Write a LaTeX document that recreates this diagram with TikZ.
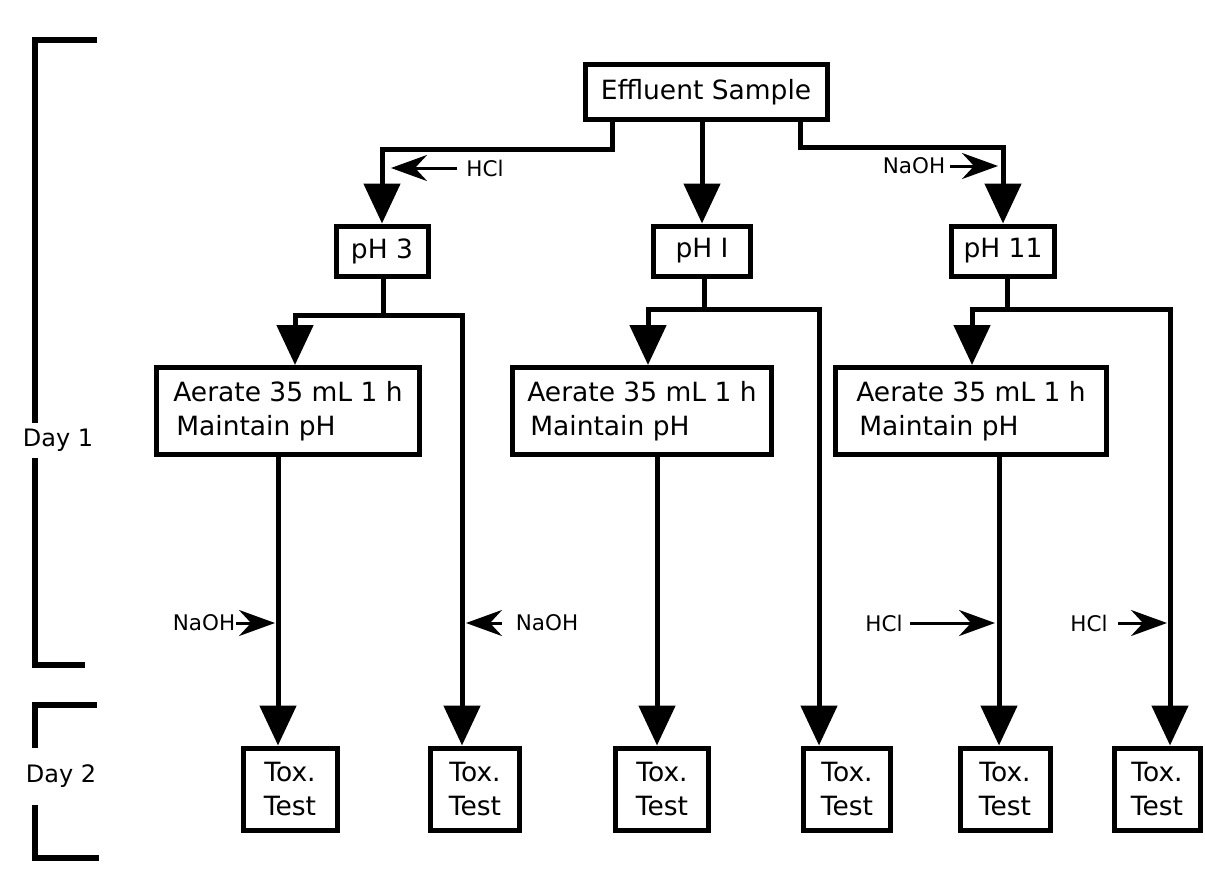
\documentclass[tikz,border=0pt]{standalone}
\usepackage{fontspec}
\setmainfont{DejaVu Sans}
\usetikzlibrary{arrows.meta}
\begin{document}
\begin{tikzpicture}[x=1pt,y=-1pt,
  box/.style={draw,line width=5pt,inner sep=0pt,align=center,
    font=\fontsize{26.5}{34}\selectfont},
  flow/.style={line width=5pt,-{Triangle[width=36pt,length=40pt]}},
  link/.style={line width=5pt},
  addarrow/.style={line width=3pt,-{Stealth[length=36pt,width=26pt,inset=12pt]}},
  lbl/.style={font=\fontsize{21.5}{24}\selectfont,inner sep=0pt},
  daylbl/.style={font=\fontsize{24}{28}\selectfont,inner sep=0pt},
  bracket/.style={line width=5.5pt}]
\useasboundingbox (0,0) rectangle (1205,892);

% boxes
\node[box,minimum width=242pt,minimum height=55pt] (eff) at (706,92) {Effluent Sample};
\node[box,minimum width=92pt,minimum height=50pt] (ph3) at (382,251) {pH 3};
\node[box,minimum width=97pt,minimum height=50pt] (phI) at (702,251) {pH I};
\node[box,minimum width=103pt,minimum height=50pt] (ph11) at (1003,251) {pH 11};

\node[box,align=left,minimum width=263pt,minimum height=87pt] (aer1) at (288,411)
  {Aerate 35 mL 1 h\\\hspace*{3pt}Maintain pH};
\node[box,align=left,minimum width=259pt,minimum height=87pt] (aer2) at (642,411)
  {Aerate 35 mL 1 h\\\hspace*{3pt}Maintain pH};
\node[box,align=left,minimum width=271pt,minimum height=87pt] (aer3) at (971,411)
  {Aerate 35 mL 1 h\\\hspace*{3pt}Maintain pH};

\node[box,minimum width=94pt,minimum height=82pt] (tox1) at (290,789) {Tox.\\Test};
\node[box,minimum width=89pt,minimum height=82pt] (tox2) at (475,789) {Tox.\\Test};
\node[box,minimum width=93pt,minimum height=82pt] (tox3) at (662,789) {Tox.\\Test};
\node[box,minimum width=87pt,minimum height=82pt] (tox4) at (847,789) {Tox.\\Test};
\node[box,minimum width=90pt,minimum height=82pt] (tox5) at (1005,789) {Tox.\\Test};
\node[box,minimum width=86pt,minimum height=82pt] (tox6) at (1157,789) {Tox.\\Test};

% sample split into three pH levels
\draw[flow] ([xshift=-94pt]eff.south) -- ++(0,27) -| (ph3.north);
\draw[flow] (eff.south -| phI.north) -- (phI.north);
\draw[flow] ([xshift=94pt]eff.south) -- ++(0,25) -| (ph11.north);

% each pH level: aerated and non-aerated portions
\coordinate (j1) at ([xshift=1pt,yshift=-37pt]ph3.south);
\draw[link] ([xshift=1pt]ph3.south) -- (j1);
\draw[flow] (j1) -| ([xshift=7pt]aer1.north);
\draw[flow] (j1) -| ([xshift=-13pt]tox2.north);

\coordinate (j2) at ([xshift=2pt,yshift=-31pt]phI.south);
\draw[link] ([xshift=2pt]phI.south) -- (j2);
\draw[flow] (j2) -| ([xshift=6pt]aer2.north);
\draw[flow] (j2) -| ([xshift=-28pt]tox4.north);

\coordinate (j3) at ([xshift=4pt,yshift=-31pt]ph11.south);
\draw[link] ([xshift=4pt]ph11.south) -- (j3);
\draw[flow] (j3) -| ([xshift=1pt]aer3.north);
\draw[flow] (j3) -| ([xshift=13pt]tox6.north);

% aerated portions to toxicity tests
\draw[flow] ([xshift=-10pt]aer1.south) -- ([xshift=-12pt]tox1.north);
\draw[flow] ([xshift=15pt]aer2.south) -- ([xshift=-5pt]tox3.north);
\draw[flow] ([xshift=28pt]aer3.south) -- ([xshift=-6pt]tox5.north);

% reagent additions
\node[lbl] (hclA) at (485,168) {HCl};
\coordinate (hclAtip) at (391,168);
\draw[addarrow] ([xshift=-9pt]hclA.west) -- (hclAtip);

\node[lbl] (naohA) at (914,166) {NaOH};
\coordinate (naohAtip) at (998,166);
\draw[addarrow] ([xshift=5pt]naohA.east) -- (naohAtip);

\node[lbl] (naohB) at (204,623) {NaOH};
\coordinate (naohBtip) at (275,623);
\draw[addarrow] ([xshift=1pt]naohB.east) -- (naohBtip);

\node[lbl] (naohC) at (547,623) {NaOH};
\coordinate (naohCtip) at (466,623);
\draw[addarrow] ([xshift=-14pt]naohC.west) -- (naohCtip);

\node[lbl] (hclC) at (884,623) {HCl};
\coordinate (hclCtip) at (995,623);
\draw[addarrow] ([xshift=7pt]hclC.east) -- (hclCtip);

\node[lbl] (hclD) at (1089,623) {HCl};
\coordinate (hclDtip) at (1167,623);
\draw[addarrow] ([xshift=10pt]hclD.east) -- (hclDtip);

% day brackets
\node[daylbl] (day1) at (58,440) {Day 1};
\node[daylbl] (day2) at (61,776) {Day 2};
\draw[bracket] (97,40) -| (35,423);
\draw[bracket] (35,458) |- (85,665);
\draw[bracket] (97,705) -| (35,748);
\draw[bracket] (35,805) |- (99,858);
\end{tikzpicture}
\end{document}
